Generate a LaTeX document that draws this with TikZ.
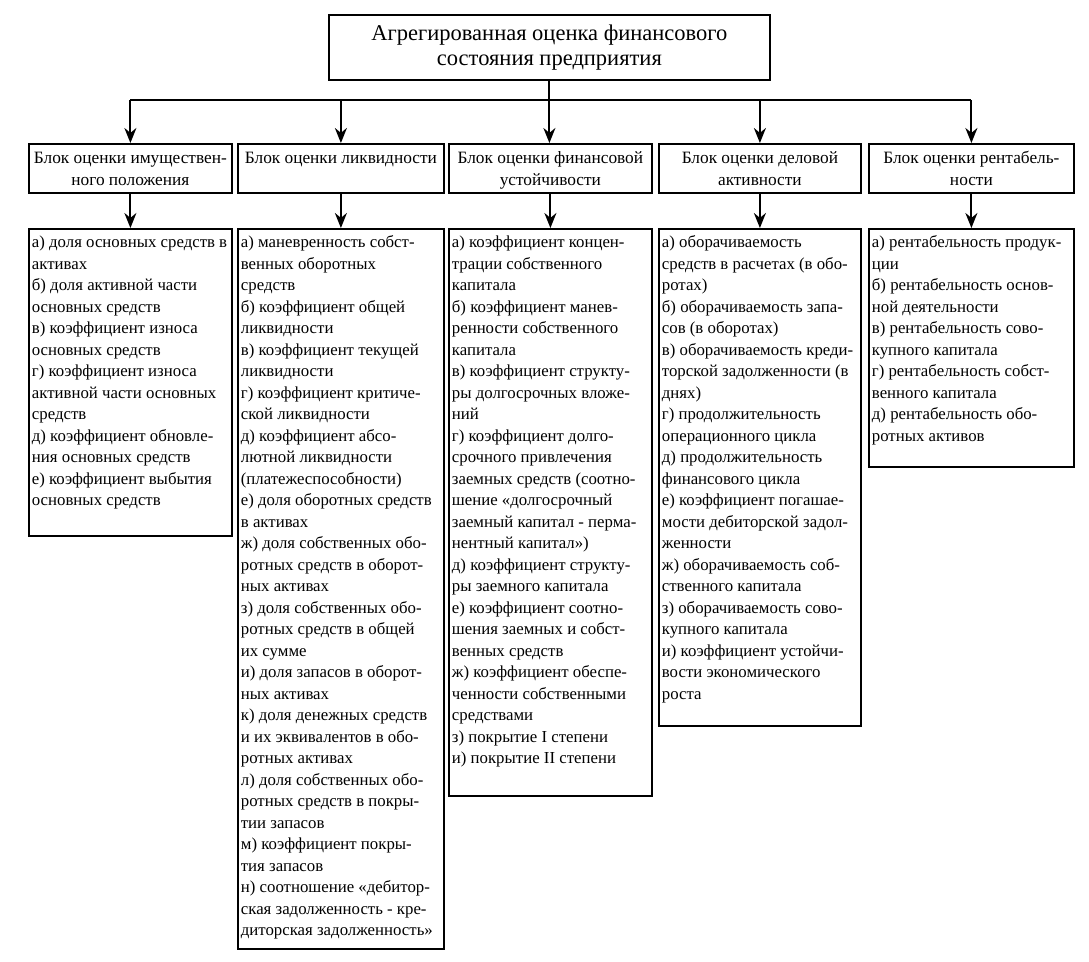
\documentclass[tikz,border=0pt]{standalone}
\usepackage{fontspec}
\setmainfont{Liberation Serif}
\usetikzlibrary{arrows.meta}
\tikzset{
  boxst/.style={draw, line width=1.8pt, inner xsep=3pt, inner ysep=4pt, anchor=north west, font=\fontsize{16.8}{21.5}\selectfont},
  titlest/.style={boxst, font=\fontsize{17.3}{22}\selectfont},
  topst/.style={draw, line width=1.8pt, inner sep=0pt, anchor=north west, font=\fontsize{22.5}{25}\selectfont},
  conn/.style={line width=2pt},
  arr/.style={line width=2pt, -{Stealth[length=15pt,width=12pt]}}
}
% style, name, x1, y1, x2, y2, alignment, text
\newcommand\mkbox[8]{%
  \node[#1] (#2) at (#3,#4) {\parbox[c][\dimexpr #6pt-#4pt-8pt\relax][t]{\dimexpr #5pt-#3pt-6pt\relax}{#7\strut #8}};}
\begin{document}
\begin{tikzpicture}[x=1pt,y=-1pt]
\useasboundingbox (0,0) rectangle (1089,961);
\node[topst] (top) at (328,14) {\parbox[c][65pt][c]{441pt}{\centering Агрегированная оценка финансового\\ состояния предприятия}};
% block boxes
\mkbox{titlest}{b1}{28}{143}{231}{192}{\centering}{Блок оценки имуществен-\\ного положения}
\mkbox{titlest}{b2}{237}{143}{443}{192}{\centering}{Блок оценки ликвидности}
\mkbox{titlest}{b3}{448}{143}{651}{192}{\centering}{Блок оценки финансовой\\устойчивости}
\mkbox{titlest}{b4}{658}{143}{860}{192}{\centering}{Блок оценки деловой\\активности}
\mkbox{titlest}{b5}{868}{143}{1073}{192}{\centering}{Блок оценки рентабель-\\ности}
% lists
\mkbox{boxst}{l1}{28}{228}{231}{535}{\raggedright}{а) доля основных средств в\\
активах\\
б) доля активной части\\
основных средств\\
в) коэффициент износа\\
основных средств\\
г) коэффициент износа\\
активной части основных\\
средств\\
д) коэффициент обновле-\\
ния основных средств\\
е) коэффициент выбытия\\
основных средств}
\mkbox{boxst}{l2}{237}{228}{443}{948}{\raggedright}{а) маневренность собст-\\
венных оборотных\\
средств\\
б) коэффициент общей\\
ликвидности\\
в) коэффициент текущей\\
ликвидности\\
г) коэффициент критиче-\\
ской ликвидности\\
д) коэффициент абсо-\\
лютной ликвидности\\
(платежеспособности)\\
е) доля оборотных средств\\
в активах\\
ж) доля собственных обо-\\
ротных средств в оборот-\\
ных активах\\
з) доля собственных обо-\\
ротных средств в общей\\
их сумме\\
и) доля запасов в оборот-\\
ных активах\\
к) доля денежных средств\\
и их эквивалентов в обо-\\
ротных активах\\
л) доля собственных обо-\\
ротных средств в покры-\\
тии запасов\\
м) коэффициент покры-\\
тия запасов\\
н) соотношение «дебитор-\\
ская задолженность - кре-\\
диторская задолженность»}
\mkbox{boxst}{l3}{448}{228}{651}{795}{\raggedright}{а) коэффициент концен-\\
трации собственного\\
капитала\\
б) коэффициент манев-\\
ренности собственного\\
капитала\\
в) коэффициент структу-\\
ры долгосрочных вложе-\\
ний\\
г) коэффициент долго-\\
срочного привлечения\\
заемных средств (соотно-\\
шение «долгосрочный\\
заемный капитал - перма-\\
нентный капитал»)\\
д) коэффициент структу-\\
ры заемного капитала\\
е) коэффициент соотно-\\
шения заемных и собст-\\
венных средств\\
ж) коэффициент обеспе-\\
ченности собственными\\
средствами\\
з) покрытие I степени\\
и) покрытие II степени}
\mkbox{boxst}{l4}{658}{228}{860}{725}{\raggedright}{а) оборачиваемость\\
средств в расчетах (в обо-\\
ротах)\\
б) оборачиваемость запа-\\
сов (в оборотах)\\
в) оборачиваемость креди-\\
торской задолженности (в\\
днях)\\
г) продолжительность\\
операционного цикла\\
д) продолжительность\\
финансового цикла\\
е) коэффициент погашае-\\
мости дебиторской задол-\\
женности\\
ж) оборачиваемость соб-\\
ственного капитала\\
з) оборачиваемость сово-\\
купного капитала\\
и) коэффициент устойчи-\\
вости экономического\\
роста}
\mkbox{boxst}{l5}{868}{228}{1073}{466}{\raggedright}{а) рентабельность продук-\\
ции\\
б) рентабельность основ-\\
ной деятельности\\
в) рентабельность сово-\\
купного капитала\\
г) рентабельность собст-\\
венного капитала\\
д) рентабельность обо-\\
ротных активов}
% connectors
\coordinate (bar) at (0,100);
\draw[conn] (b1.north |- bar) -- (b5.north |- bar);
\draw[arr] (top.south) -- (top.south |- b3.north);
\foreach \b in {b1,b2,b4,b5} \draw[arr] (\b.north |- bar) -- (\b.north);
\foreach \i in {1,...,5} \draw[arr] (b\i.south) -- (l\i.north);
\end{tikzpicture}
\end{document}
